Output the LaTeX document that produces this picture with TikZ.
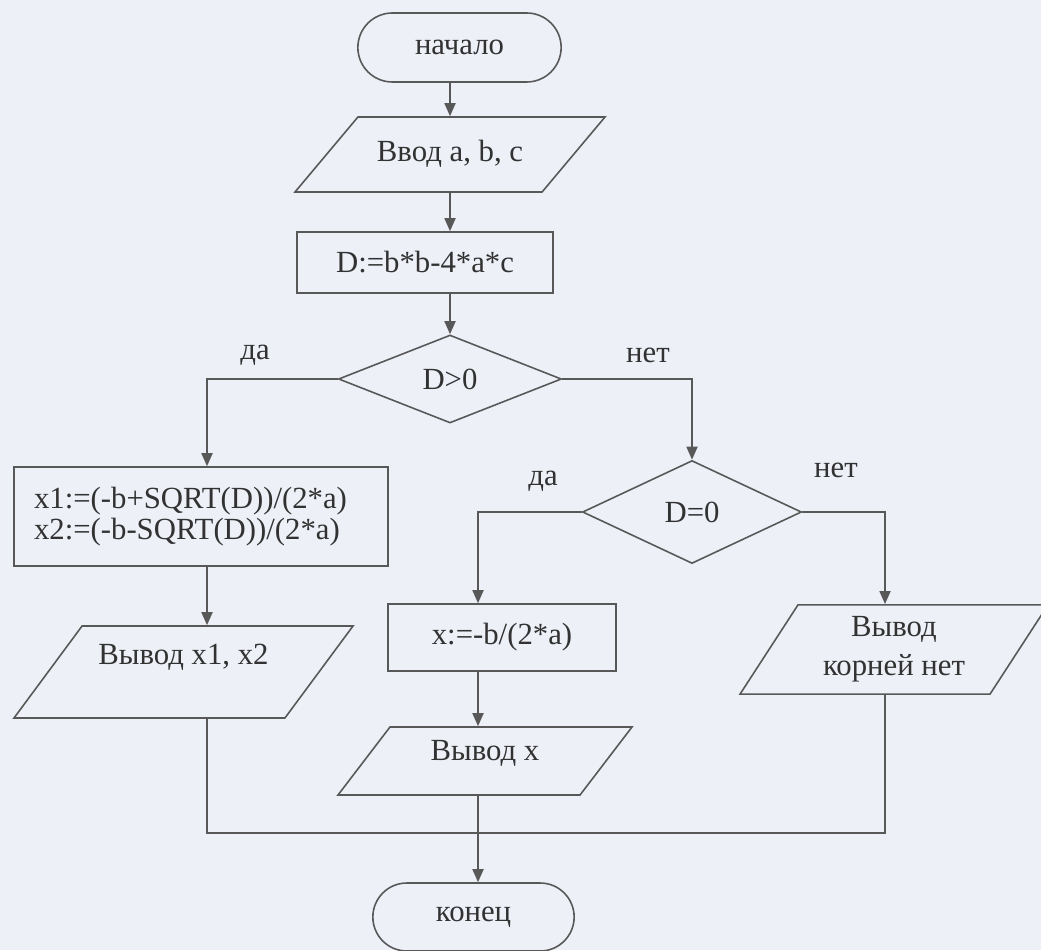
\documentclass[tikz,border=0pt]{standalone}
\usepackage{fontspec}
\setmainfont{Liberation Serif}
\usetikzlibrary{shapes.geometric,shapes.misc,arrows.meta}
\definecolor{bgcol}{RGB}{238,240,248}
\definecolor{linecol}{RGB}{88,88,88}
\definecolor{textcol}{RGB}{50,50,50}

\begin{document}
\begin{tikzpicture}[
	font=\fontsize{17.5}{22}\selectfont, text=textcol,
	term/.style={rounded rectangle, draw=linecol, line width=0.9pt, minimum width=4.3cm, minimum height=1.38cm},
	proc/.style={rectangle, draw=linecol, line width=0.9pt},
	io/.style={trapezium, trapezium stretches body, draw=linecol, line width=0.9pt, align=center},
	oneline/.style={text height=0.45cm, text depth=0.15cm},
	cond/.style={diamond, draw=linecol, line width=0.9pt, inner sep=0pt},
	arr/.style={draw=linecol, line width=1pt, -{Triangle[width=0.22cm,length=0.26cm]}},
	line/.style={draw=linecol, line width=1pt}
]
		%background and page size
		\fill[bgcol] (0,0) rectangle (20.82,-19);
		\useasboundingbox (0,0) rectangle (20.82,-19);

		%columns of the connectors
		\coordinate (axis) at (9.0,0);
		\coordinate (colA) at (4.14,0);
		\coordinate (colB) at (9.56,0);
		\coordinate (colC) at (17.7,0);
		\coordinate (join) at (9.56,-16.66);

		%main column
		\node[term] (start) at (9.19,-0.95) {начало};
		\node[io, oneline, trapezium left angle=50, trapezium right angle=130, inner ysep=0.45cm, minimum width=6.2cm] (input) at (9.0,-3.09) {Ввод a, b, c};
		\node[proc, minimum width=5.12cm, minimum height=1.22cm] (calc) at (8.5,-5.25) {D:=b*b-4*a*c};
		\node[cond, minimum width=4.46cm, minimum height=1.76cm] (dpos) at (9.0,-7.58) {D>0};

		%branches
		\node[proc, minimum width=7.48cm, minimum height=1.98cm, inner xsep=0.4cm, text width=6.68cm, align=left, font=\fontsize{17.5}{18}\selectfont] (roots) at (4.02,-10.33) {x1:=(-b+SQRT(D))/(2*a)\\x2:=(-b-SQRT(D))/(2*a)};
		\node[cond, minimum width=4.38cm, minimum height=2.06cm] (dzero) at (13.84,-10.24) {D=0};
		\node[proc, minimum width=4.56cm, minimum height=1.34cm] (one) at (10.04,-12.75) {x:=-b/(2*a)};
		\node[io, oneline, text depth=0.75cm, trapezium left angle=53.5, trapezium right angle=126.5, inner ysep=0.32cm, minimum width=6.78cm] (out2) at (3.67,-13.44) {Вывод x1, x2};
		\node[io, oneline, text depth=0.47cm, trapezium left angle=52.6, trapezium right angle=127.4, inner ysep=0.22cm, minimum width=5.88cm] (out1) at (9.7,-15.22) {Вывод x};
		\node[io, trapezium left angle=57, trapezium right angle=123, inner ysep=0.24cm, minimum width=6.16cm] (none) at (17.88,-12.99) {Вывод\\корней нет};
		\node[term, minimum width=4.26cm, minimum height=1.36cm] (endn) at (9.47,-18.34) {конец};

		%yes / no
		\node (yes1) at (5.1,-7.1) {да};
		\node (no1) at (12.96,-7.1) {нет};
		\node (yes2) at (10.86,-9.62) {да};
		\node (no2) at (16.72,-9.4) {нет};

		%arrows
		\draw[arr] (start.south -| axis) -- (input.north -| axis);
		\draw[arr] (input.south -| axis) -- (calc.north -| axis);
		\draw[arr] (calc.south -| axis) -- (dpos.north);
		\draw[arr] (dpos.west) -| (roots.north -| colA);
		\draw[arr] (dpos.east) -| (dzero.north);
		\draw[arr] (roots.south -| colA) -- (out2.north -| colA);
		\draw[arr] (dzero.west) -| (one.north -| colB);
		\draw[arr] (dzero.east) -| (none.north -| colC);
		\draw[arr] (one.south -| colB) -- (out1.north -| colB);
		\draw[line] (out2.south -| colA) |- (join) -| (none.south -| colC);
		\draw[arr] (out1.south -| colB) -- (endn.north -| colB);
\end{tikzpicture}
\end{document}
